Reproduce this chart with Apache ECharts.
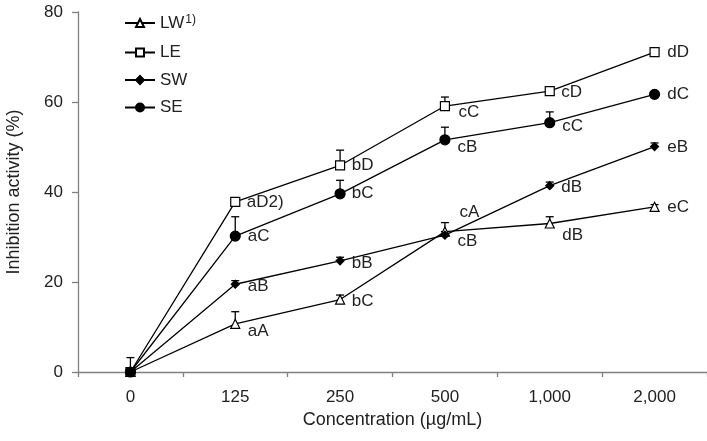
<!DOCTYPE html>
<html>
<head>
<meta charset="utf-8">
<script src="https://cdn.jsdelivr.net/npm/echarts@6/dist/echarts.min.js"></script>
<style>
html,body{margin:0;padding:0;background:#fff;}
#chart{width:707px;height:441px;}
</style>
</head>
<body>
<div id="chart"></div>
<script>
// ---- data ----
var categories = ['0', '125', '250', '500', '1,000', '2,000'];
var yTicks = [0, 20, 40, 60, 80];
var seriesNames = ['LW', 'LE', 'SW', 'SE'];

var lwValues = [0, 10.7, 16.1, 31.2, 33.0, 36.7];
var leValues = [0, 37.8, 45.9, 59.1, 62.4, 71.1];
var swValues = [0, 19.5, 24.7, 30.4, 41.4, 50.1];
var seValues = [0, 30.2, 39.6, 51.6, 55.4, 61.7];

var lwErrors = [0, 2.7, 1.0, 2.0, 1.5, 0.5];
var leErrors = [0, 0.8, 3.4, 2.0, 0.5, 0.5];
var swErrors = [0, 0.8, 0.8, 0.8, 0.8, 0.8];
var seErrors = [3.2, 4.3, 3.0, 2.8, 2.4, 0.5];

var lwLetters = ['', 'aA', 'bC', 'cA', 'dB', 'eC'];
var leLetters = ['', 'aD2)', 'bD', 'cC', 'cD', 'dD'];
var swLetters = ['', 'aB', 'bB', 'cB', 'dB', 'eB'];
var seLetters = ['', 'aC', 'bC', 'cB', 'cC', 'dC'];

// ---- label placement (styling, relative to point centre) ----
var lwLabelOffsets = [[0,0],[12,7],[11,2],[14,-19],[12,12],[12,0]];
var leLabelOffsets = [[0,0],[11,0],[11,0],[13,6],[11,1],[12,0]];
var swLabelOffsets = [[0,0],[12,2],[11,2],[12,6],[11,2],[12,1]];
var seLabelOffsets = [[0,0],[12,0],[11,0],[12,8],[12,4],[12,0]];

var FONT = 'Liberation Sans, Arial, Helvetica, sans-serif';
var TXT = '#222';

function buildPoints(values, letters, offsets) {
  return values.map(function (v, i) {
    return {
      value: v,
      label: {
        show: letters[i] !== '',
        formatter: letters[i],
        position: 'right',
        distance: 0,
        offset: offsets[i]
      }
    };
  });
}

function lineSeries(name, values, letters, offsets, symbol, size, fill) {
  var adj = offsets.map(function (o) { return [o[0] - size / 2, o[1]]; });
  return {
    name: name,
    type: 'line',
    data: buildPoints(values, letters, adj),
    symbol: symbol,
    symbolSize: size,
    showAllSymbol: true,
    z: 3,
    lineStyle: { color: '#000', width: 1.3 },
    itemStyle: { color: fill, borderColor: '#000', borderWidth: 1.2 },
    label: { fontFamily: FONT, fontSize: 17, color: TXT },
    emphasis: { disabled: true },
    animation: false
  };
}

function errData(values, errors) {
  var out = [];
  values.forEach(function (v, i) {
    if (errors[i] > 0) out.push([i, v, errors[i]]);
  });
  return out;
}

var errorSeries = {
  type: 'custom',
  name: 'err',
  z: 2,
  silent: true,
  animation: false,
  data: [].concat(
    errData(lwValues, lwErrors),
    errData(leValues, leErrors),
    errData(swValues, swErrors),
    errData(seValues, seErrors)
  ),
  encode: { x: 0, y: 1 },
  renderItem: function (params, api) {
    var idx = api.value(0), v = api.value(1), e = api.value(2);
    var p0 = api.coord([idx, v]);
    var p1 = api.coord([idx, v + e]);
    var st = { stroke: '#000', lineWidth: 1.3 };
    return {
      type: 'group',
      children: [
        { type: 'line', shape: { x1: p0[0], y1: p0[1], x2: p1[0], y2: p1[1] }, style: st },
        { type: 'line', shape: { x1: p1[0] - 4, y1: p1[1], x2: p1[0] + 4, y2: p1[1] }, style: st }
      ]
    };
  }
};

var chart = echarts.init(document.getElementById('chart'), null, { renderer: 'canvas' });
chart.setOption({
  animation: false,
  backgroundColor: '#fff',
  grid: { left: 78, right: 0, top: 12, bottom: 69, containLabel: false, outerBoundsMode: 'none' },
  legend: {
    data: seriesNames,
    orient: 'vertical',
    left: 124,
    top: 14,
    padding: 0,
    itemWidth: 30,
    itemHeight: 10,
    itemGap: 9.5,
    textStyle: {
      fontFamily: FONT, fontSize: 17, color: TXT, lineHeight: 18,
      rich: { sup: { fontFamily: FONT, fontSize: 12, color: TXT, verticalAlign: 'top', lineHeight: 18, padding: [0, 0, 8, 1] } }
    },
    formatter: function (n) { return n === 'LW' ? 'LW{sup|1)}' : n; },
    selectedMode: false
  },
  xAxis: {
    type: 'category',
    data: categories,
    boundaryGap: true,
    name: 'Concentration (\u00b5g/mL)',
    nameLocation: 'middle',
    nameGap: 39,
    nameTextStyle: { fontFamily: FONT, fontSize: 18, color: TXT },
    axisLine: { lineStyle: { color: '#808080', width: 1.3 } },
    axisTick: { show: true, inside: false, length: 5, lineStyle: { color: '#808080', width: 1.3 } },
    axisLabel: { fontFamily: FONT, fontSize: 17, color: TXT, margin: 17 },
    splitLine: { show: false }
  },
  yAxis: {
    type: 'value',
    min: yTicks[0],
    max: yTicks[yTicks.length - 1],
    interval: yTicks[1] - yTicks[0],
    name: 'Inhibition activity (%)',
    nameLocation: 'middle',
    nameRotate: 90,
    nameGap: 55,
    nameTextStyle: { fontFamily: FONT, fontSize: 18, color: TXT },
    axisLine: { show: true, lineStyle: { color: '#808080', width: 1.3 } },
    axisTick: { show: true, inside: false, length: 6, lineStyle: { color: '#808080', width: 1.3 } },
    axisLabel: { fontFamily: FONT, fontSize: 17, color: TXT, margin: 15 },
    splitLine: { show: false }
  },
  series: [
    errorSeries,
    lineSeries('LW', lwValues, lwLetters, lwLabelOffsets, 'triangle', 9, '#fff'),
    lineSeries('LE', leValues, leLetters, leLabelOffsets, 'rect', 9, '#fff'),
    lineSeries('SW', swValues, swLetters, swLabelOffsets, 'diamond', 8, '#000'),
    lineSeries('SE', seValues, seLetters, seLabelOffsets, 'circle', 10, '#000')
  ]
});
</script>
</body>
</html>
